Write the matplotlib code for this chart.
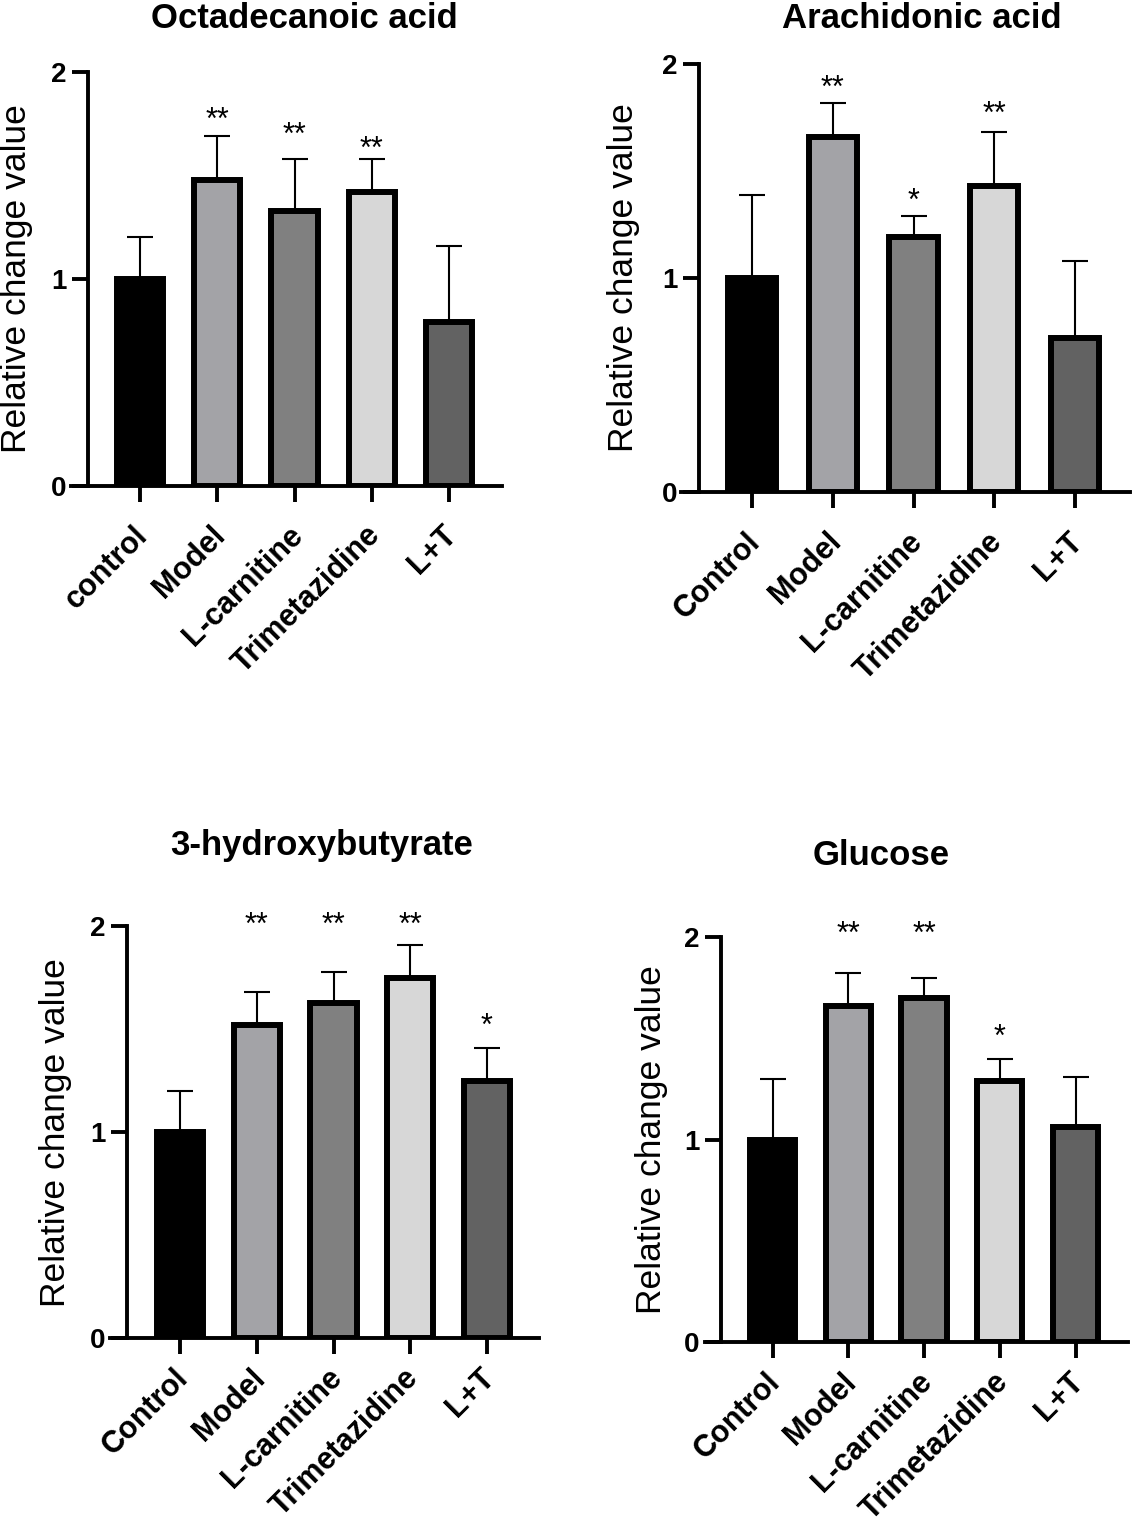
import matplotlib
matplotlib.use('Agg')
import matplotlib.pyplot as plt
from matplotlib.transforms import ScaledTranslation

plt.rcParams['font.family'] = ['Liberation Sans', 'DejaVu Sans']

# ---------------- data ----------------
groups = ['Control', 'Model', 'L-carnitine', 'Trimetazidine', 'L+T']
groups_first = ['control', 'Model', 'L-carnitine', 'Trimetazidine', 'L+T']
bar_colors = ['#000000', '#a3a3a7', '#808080', '#d7d7d7', '#626262']

titles = ['Octadecanoic acid', 'Arachidonic acid', '3-hydroxybutyrate', 'Glucose']

octa_mean = [1.00, 1.48, 1.33, 1.42, 0.79]
octa_err = [0.20, 0.21, 0.25, 0.16, 0.37]
octa_sig = ['', '**', '**', '**', '']
octa_sig_y = [0, 1.81, 1.74, 1.67, 0]

arach_mean = [1.00, 1.66, 1.19, 1.43, 0.72]
arach_err = [0.39, 0.16, 0.10, 0.25, 0.36]
arach_sig = ['', '**', '*', '**', '']
arach_sig_y = [0, 1.93, 1.40, 1.81, 0]

hb_mean = [1.00, 1.52, 1.63, 1.75, 1.25]
hb_err = [0.20, 0.16, 0.15, 0.16, 0.16]
hb_sig = ['', '**', '**', '**', '*']
hb_sig_y = [0, 2.05, 2.05, 2.05, 1.56]

glu_mean = [1.00, 1.66, 1.70, 1.29, 1.06]
glu_err = [0.30, 0.16, 0.10, 0.11, 0.25]
glu_sig = ['', '**', '**', '*', '']
glu_sig_y = [0, 2.06, 2.06, 1.55, 0]

yticks = [0, 1, 2]
ytick_labels = ['0', '1', '2']
ylabel = 'Relative change value'

# ---------------- layout (pixels) ----------------
W, H = 1134, 1526
# axis_start, axis_end, spine_x, first_center, spacing, y0, y2, label_x,
# title_x, title_baseline, xtick label pad (pt)
layouts = [
    (71, 502, 88, 140, 77.25, 485.5, 72, 17, 304, 28, 13.5),
    (681, 1130, 699, 752, 80.75, 492, 64, 624, 922, 28, 13.5),
    (110, 539, 127, 180, 76.75, 1338, 926.5, 56, 322, 855, 6.5),
    (705, 1128, 721, 772.5, 75.75, 1342, 937, 651, 881, 865, 6.5),
]

panels = [
    (titles[0], groups_first, octa_mean, octa_err, octa_sig, octa_sig_y),
    (titles[1], groups, arach_mean, arach_err, arach_sig, arach_sig_y),
    (titles[2], groups, hb_mean, hb_err, hb_sig, hb_sig_y),
    (titles[3], groups, glu_mean, glu_err, glu_sig, glu_sig_y),
]

fig = plt.figure(figsize=(W / 100, H / 100), dpi=100)

for (title, labels, mean, err, sig, sig_y), lay in zip(panels, layouts):
    a0, a1, sx, c0, s, y0, y2, lx, tx, ty, xpad = lay
    ax = fig.add_axes([a0 / W, (H - y0) / H, (a1 - a0) / W, (y0 - y2) / H])
    x = list(range(len(labels)))
    ax.bar(x, mean, width=0.6, color=bar_colors, edgecolor='black',
           linewidth=4.3, zorder=2)
    ax.errorbar(x, mean, yerr=[[0] * len(err), err], fmt='none',
                ecolor='black', elinewidth=1.5, capsize=9.7, capthick=1.5,
                zorder=1)
    ax.set_xlim((a0 - c0) / s, (a1 - c0) / s)
    ax.set_ylim(0, 2)
    for sp in ['top', 'right']:
        ax.spines[sp].set_visible(False)
    ax.spines['left'].set_position(('data', (sx - c0) / s))
    for sp in ['left', 'bottom']:
        ax.spines[sp].set_linewidth(2.8)
    ax.tick_params(axis='both', width=2.8, length=11.5, direction='out',
                   colors='black')
    ax.tick_params(axis='x', pad=xpad)
    ax.tick_params(axis='y', pad=4)
    ax.set_yticks(yticks, ytick_labels, fontsize=20, fontweight='bold')
    ax.set_xticks(x, labels, fontsize=22, fontweight='bold', rotation=45,
                  ha='right', va='top', rotation_mode='anchor')
    off = ScaledTranslation(-5 / 72, 0, fig.dpi_scale_trans)
    for lbl in ax.get_xticklabels():
        lbl.set_transform(lbl.get_transform() + off)
    ax.set_ylabel(ylabel, fontsize=25.5, va='center')
    ax.yaxis.set_label_coords((lx - a0) / (a1 - a0), 0.5)
    fig.text(tx / W, 1 - ty / H, title, fontsize=25, fontweight='bold',
             ha='center', va='baseline')
    for i, (st, sy) in enumerate(zip(sig, sig_y)):
        if st:
            ax.annotate(st, (i, sy), xytext=(0, -12.8),
                        textcoords='offset points', ha='center',
                        va='baseline', fontsize=22, annotation_clip=False)
    ax.patch.set_alpha(0)

fig.savefig('out.png', dpi=100, facecolor='white')
